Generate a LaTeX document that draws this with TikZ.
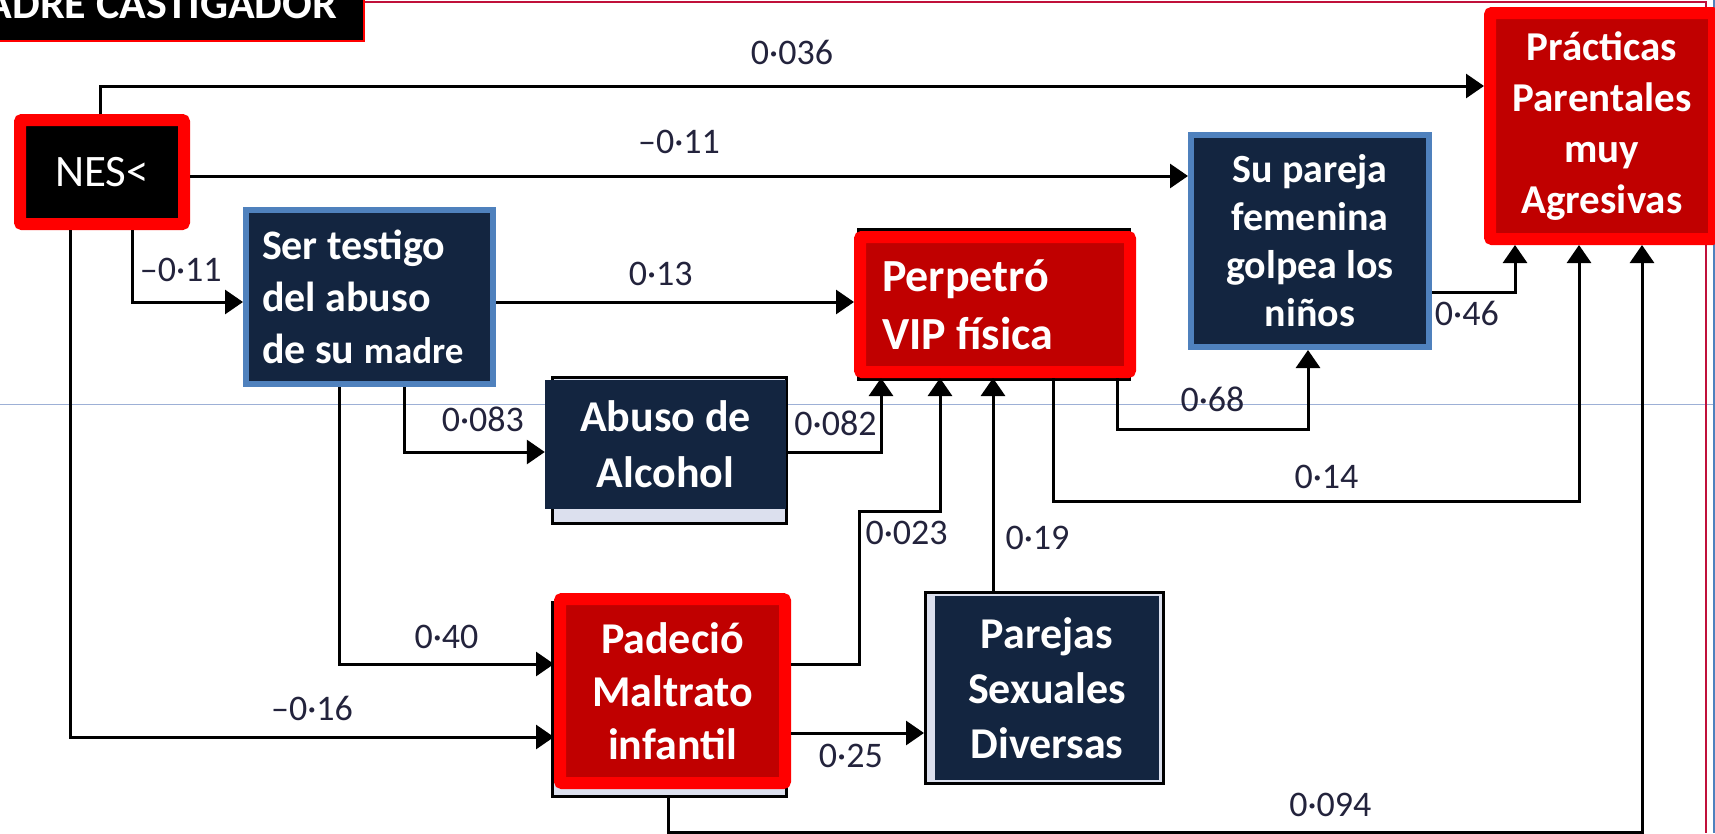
\documentclass[tikz,border=0pt]{standalone}
\usepackage{fontspec}
\setmainfont{Carlito}
\usepackage{xcolor}
\usetikzlibrary{arrows.meta}
\usetikzlibrary{calc}

\definecolor{navy}{RGB}{19,37,64}
\definecolor{edgeblue}{RGB}{79,129,189}
\definecolor{brightred}{RGB}{255,0,0}
\definecolor{darkred}{RGB}{192,0,0}
\definecolor{lavender}{RGB}{220,224,238}
\definecolor{crimson}{RGB}{192,16,58}
\definecolor{guide}{RGB}{157,176,214}
\definecolor{numtext}{RGB}{35,35,60}

\begin{document}
\begin{tikzpicture}[x=1pt, y=-1pt, >={Triangle[length=18pt,width=24pt]},
  fs/.style 2 args={font=\fontsize{#1}{#2}\selectfont\bfseries},
  navybox/.style={fill=navy, text=white, align=center, inner sep=0pt},
  bluebox/.style={navybox, draw=edgeblue, line width=6pt, outer sep=3pt},
  redbox/.style={fill=darkred, draw=brightred, line width=12pt, rounded corners=2pt,
    outer sep=6pt, text=white, align=center, inner sep=0pt},
  shadowbox/.style={draw=black, line width=3pt, fill=lavender},
  link/.style={draw=black, line width=3pt, ->},
  lbl/.style={text=numtext, font=\fontsize{36}{36}\selectfont, inner sep=0pt}]
  \path[use as bounding box] (0,0) rectangle (1715,833);
  \clip (0,0) rectangle (1715,833);

  \draw[guide, line width=1.2pt] (0,404.5) -- (1715,404.5);
  \draw[crimson, line width=2.5pt] (365,2) -- (1706,2) -- (1706,833);
  \draw[edgeblue, line width=2pt] (1714,0) -- (1714,833);

  \foreach \xa/\ya/\xb/\yb in {552.5/377.5/786.5/523.5, 552.5/602.5/786.5/796.5,
    925.5/592.5/1163.5/783.5, 858/229.5/1129/379.5}
    \draw[shadowbox] (\xa,\ya) rectangle (\xb,\yb);

  \node[fill=black, draw=brightred, line width=2pt, outer sep=1pt, text=white,
    fs={44}{44}, inner xsep=27pt, inner ysep=0pt, text height=60pt, text depth=23pt,
    anchor=south east] (title) at (365,42) {ADRE CASTIGADOR};

  \node[redbox, fill=black, font=\fontsize{45}{45}\selectfont,
    minimum width=164pt, minimum height=104pt] (nes) at (102,172) {NES<};
  \node[bluebox, fs={42}{52}, align=flush left, text width=215pt, inner xsep=16pt,
    minimum height=174pt] (wit) at (369.5,297)
    {Ser testigo\\del abuso\\de su {\fontsize{37}{52}\selectfont madre}};
  \node[redbox, fs={46}{58}, align=flush left, text width=226pt, inner xsep=22pt,
    minimum height=135pt] (perp) at (995,304.5) {Perpetró\\VIP física};
  \node[bluebox, fs={40}{48}, minimum width=238pt, minimum height=212pt]
    (hit) at (1310,241) {Su pareja\\femenina\\golpea los\\niños};
  \node[redbox, fs={41}{51}, minimum width=224pt, minimum height=226pt]
    (prac) at (1602,126) {Prácticas\\Parentales\\muy\\Agresivas};
  \node[navybox, fs={44}{56}, minimum width=241pt, minimum height=129pt]
    (alc) at (665.5,444.5) {Abuso de\\Alcohol};
  \node[redbox, fs={44}{53}, minimum width=225pt, minimum height=184pt]
    (abuse) at (672.5,691) {Padeció\\Maltrato\\infantil};
  \node[navybox, draw=lavender, line width=2pt, outer xsep=10pt, outer ysep=4pt,
    fs={44}{55}, minimum width=226pt, minimum height=186pt]
    (sex) at (1047,688) {Parejas\\Sexuales\\Diversas};

  \draw[link] ([xshift=-2pt]nes.north) |- node[lbl, above=20pt, pos=0.75] {0·036} ([yshift=40pt]prac.west);
  \draw[link] ([yshift=-4pt]nes.east) -- node[lbl, above=21pt, pos=0.49] {–0·11} ([yshift=-4pt]nes.east -| hit.west);
  \draw[link] ([xshift=30pt]nes.south) |- node[lbl, above=19pt, pos=0.72] {–0·11} ([yshift=-5pt]wit.west);
  \draw[link] ([xshift=-32pt]nes.south) |- node[lbl, above=15pt, pos=0.75] {–0·16} ([yshift=-46pt]abuse.west);
  \draw[link] ([yshift=-5pt]wit.east) -- node[lbl, above=15pt, pos=0.46] {0·13} ([yshift=-5pt]wit.east -| perp.west);
  \draw[link] ([xshift=34.5pt]wit.south) |- node[lbl, above=19pt, pos=0.78] {0·083} ([yshift=-7.5pt]alc.west);
  \draw[link] ([xshift=-30.5pt]wit.south) |- node[lbl, above=14pt, pos=0.75] {0·40} ([yshift=27pt]abuse.west);
  \draw[link] ([yshift=-7.5pt]alc.east) -| node[lbl, above=15pt, pos=0.26] {0·082} ([xshift=-114pt]perp.south);
  \draw[link] ([yshift=27pt]abuse.east) -| ++(68,-153)
    node[lbl, anchor=north west, xshift=5pt, yshift=-9pt] {0·023} -| ([xshift=-55pt]perp.south);
  \draw[link] ([xshift=-54pt]sex.north) -- node[lbl, right=11pt, pos=0.25] {0·19} ([xshift=-54pt]sex.north |- perp.south);
  \draw[link] ([yshift=-42pt]abuse.east) -- node[lbl, below=10pt, pos=0.45] {0·25} ([yshift=-42pt]abuse.east -| sex.west);
  \draw[link] ([xshift=-4.5pt,yshift=-9pt]abuse.south) -- ++(0,34) -| node[lbl, above=14pt, pos=0.34] {0·094} ([xshift=40pt]prac.south);
  \draw[link] ([xshift=122pt]perp.south) -- ++(0,51) -| node[lbl, above=16pt, pos=0.25] {0·68} ([xshift=-2pt]hit.south);
  \draw[link] ([xshift=58pt]perp.south) -- ++(0,123) -| node[lbl, above=11pt, pos=0.26] {0·14} ([xshift=-23pt]prac.south);
  \draw[link] ([yshift=-51pt]hit.east) -| node[lbl, below=8pt, pos=0.21] {0·46} ([xshift=-87pt]prac.south);
\end{tikzpicture}
\end{document}
